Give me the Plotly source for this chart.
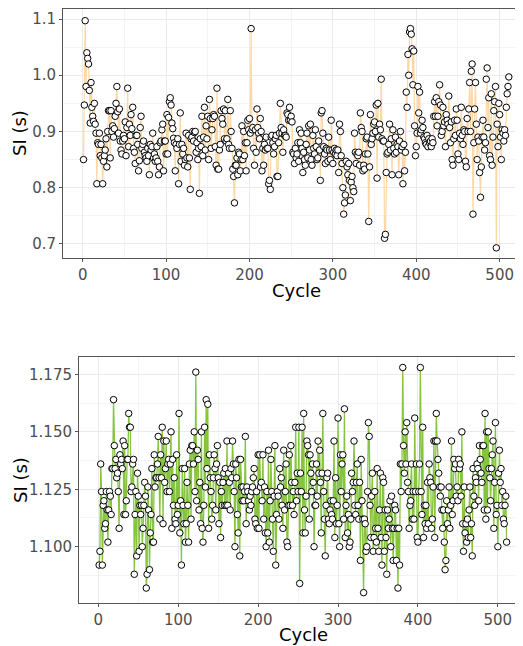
import plotly.graph_objects as go

# ---- data: top panel (SI, seconds) ----
si_top = [
 0.850, 0.947, 1.097, 0.980, 1.040, 1.030, 1.020, 0.973, 0.915, 0.987,
 0.943, 0.927, 0.918, 0.950, 0.913, 0.897, 0.807, 0.880, 0.877, 0.897,
 0.857, 0.877, 0.853, 0.807, 0.847, 0.857, 0.867, 0.887, 0.837, 0.900,
 0.937, 0.937, 0.853, 0.937, 0.900, 0.910, 0.890, 0.905, 0.927, 0.950,
 0.980, 0.935, 0.897, 0.940, 0.883, 0.867, 0.860, 0.883, 0.893, 0.887,
 0.917, 0.857, 0.907, 0.977, 0.873, 0.913, 0.893, 0.930, 0.905, 0.943,
 0.870, 0.863, 0.843, 0.893, 0.893, 0.877, 0.830, 0.848, 0.907, 0.927,
 0.870, 0.877, 0.883, 0.863, 0.857, 0.853, 0.847, 0.870, 0.857, 0.823,
 0.877, 0.867, 0.873, 0.897, 0.853, 0.860, 0.847, 0.853, 0.873, 0.847,
 0.823, 0.837, 0.880, 0.883, 0.903, 0.913, 0.830, 0.883, 0.883, 0.860,
 0.930, 0.860, 0.925, 0.953, 0.960, 0.947, 0.915, 0.905, 0.888, 0.880,
 0.830, 0.877, 0.870, 0.887, 0.807, 0.877, 0.933, 0.847, 0.877, 0.860,
 0.870, 0.840, 0.850, 0.897, 0.853, 0.837, 0.893, 0.853, 0.797, 0.887,
 0.890, 0.900, 0.883, 0.898, 0.900, 0.863, 0.880, 0.850, 0.870, 0.790,
 0.887, 0.873, 0.927, 0.857, 0.890, 0.943, 0.867, 0.910, 0.887, 0.927,
 0.850, 0.957, 0.923, 0.870, 0.903, 0.923, 0.930, 0.927, 0.873, 0.840,
 0.977, 0.833, 0.833, 0.867, 0.877, 0.937, 0.923, 0.913, 0.940, 0.887,
 0.937, 0.883, 0.887, 0.957, 0.877, 0.870, 0.937, 0.900, 0.870, 0.833,
 0.820, 0.773, 0.840, 0.840, 0.853, 0.823, 0.863, 0.860, 0.830, 0.850,
 0.910, 0.850, 0.900, 0.857, 0.880, 0.830, 0.880, 0.920, 0.903, 0.923,
 0.897, 1.083, 0.903, 0.907, 0.870, 0.840, 0.903, 0.863, 0.940, 0.907,
 0.897, 0.887, 0.923, 0.900, 0.830, 0.870, 0.840, 0.877, 0.867, 0.890,
 0.870, 0.870, 0.807, 0.813, 0.797, 0.890, 0.893, 0.880, 0.860, 0.873,
 0.887, 0.893, 0.820, 0.820, 0.880, 0.897, 0.950, 0.907, 0.897, 0.863,
 0.903, 0.893, 0.893, 0.890, 0.933, 0.930, 0.920, 0.943, 0.920, 0.927,
 0.917, 0.863, 0.860, 0.843, 0.870, 0.853, 0.860, 0.880, 0.847, 0.903,
 0.880, 0.897, 0.870, 0.827, 0.863, 0.850, 0.840, 0.877, 0.897, 0.853,
 0.910, 0.867, 0.913, 0.850, 0.840, 0.893, 0.870, 0.860, 0.903, 0.873,
 0.850, 0.853, 0.883, 0.867, 0.813, 0.933, 0.937, 0.897, 0.873, 0.860,
 0.843, 0.870, 0.867, 0.847, 0.890, 0.867, 0.850, 0.920, 0.867, 0.843,
 0.863, 0.870, 0.860, 0.867, 0.857, 0.867, 0.827, 0.913, 0.900, 0.857,
 0.843, 0.800, 0.753, 0.773, 0.787, 0.847, 0.837, 0.823, 0.843, 0.813,
 0.777, 0.810, 0.820, 0.800, 0.793, 0.897, 0.863, 0.843, 0.860, 0.857,
 0.863, 0.840, 0.933, 0.907, 0.900, 0.830, 0.840, 0.833, 0.860, 0.887,
 0.890, 0.860, 0.740, 0.837, 0.930, 0.877, 0.887, 0.897, 0.913, 0.917,
 0.900, 0.947, 0.817, 0.950, 0.890, 0.913, 0.903, 0.993, 0.887, 0.883,
 0.883, 0.710, 0.717, 0.827, 0.860, 0.863, 0.877, 0.913, 0.867, 0.887,
 0.823, 0.903, 0.870, 0.860, 0.890, 0.863, 0.877, 0.873, 0.823, 0.883,
 0.900, 0.867, 0.873, 0.807, 0.877, 0.830, 0.863, 0.970, 0.943, 1.037,
 1.000, 1.077, 1.083, 1.073, 1.047, 0.983, 1.043, 0.910, 0.857, 0.873,
 0.897, 0.980, 0.933, 0.970, 0.897, 0.903, 0.920, 0.907, 0.890, 0.887,
 0.880, 0.877, 0.893, 0.873, 0.887, 0.880, 0.883, 0.873, 0.887, 0.880,
 0.927, 0.953, 0.927, 0.960, 0.910, 0.927, 0.953, 0.983, 0.947, 0.893,
 0.900, 0.943, 0.910, 0.917, 0.873, 0.930, 0.920, 0.913, 0.963, 0.907,
 0.880, 0.917, 0.850, 0.840, 0.887, 0.920, 0.893, 0.940, 0.920, 0.860,
 0.850, 0.897, 0.887, 0.943, 0.893, 0.877, 0.903, 0.900, 0.847, 0.837,
 0.923, 0.900, 0.940, 0.987, 0.900, 1.007, 1.020, 0.753, 0.880, 0.940,
 0.987, 0.913, 0.850, 0.890, 0.883, 0.827, 0.783, 0.837, 0.890, 0.920,
 0.890, 0.867, 0.880, 0.993, 1.013, 0.907, 0.960, 0.857, 0.850, 0.967,
 0.840, 0.890, 0.937, 0.953, 0.980, 0.693, 0.913, 0.873, 0.950, 0.930,
 0.890, 0.850, 0.903, 0.897, 0.883, 0.903, 0.893, 0.943, 0.967, 0.980,
 0.997,
]

# ---- data: bottom panel (SI, seconds) ----
si_bot = [
 1.092, 1.098, 1.136, 1.124, 1.092, 1.118, 1.120, 1.108, 1.110, 1.124,
 1.116, 1.102, 1.116, 1.124, 1.122, 1.114, 1.134, 1.134, 1.164, 1.144,
 1.134, 1.138, 1.130, 1.132, 1.124, 1.108, 1.140, 1.136, 1.138, 1.134,
 1.146, 1.114, 1.144, 1.114, 1.120, 1.138, 1.138, 1.158, 1.152, 1.152,
 1.124, 1.126, 1.136, 1.138, 1.088, 1.114, 1.124, 1.096, 1.132, 1.122,
 1.098, 1.118, 1.114, 1.118, 1.100, 1.108, 1.118, 1.128, 1.122, 1.082,
 1.088, 1.126, 1.116, 1.090, 1.106, 1.114, 1.134, 1.102, 1.102, 1.140,
 1.126, 1.130, 1.130, 1.136, 1.148, 1.130, 1.112, 1.140, 1.130, 1.152,
 1.110, 1.146, 1.128, 1.134, 1.146, 1.124, 1.136, 1.138, 1.124, 1.136,
 1.150, 1.108, 1.138, 1.118, 1.130, 1.112, 1.110, 1.140, 1.114, 1.118,
 1.158, 1.106, 1.120, 1.092, 1.134, 1.118, 1.110, 1.134, 1.102, 1.110,
 1.128, 1.118, 1.102, 1.136, 1.142, 1.112, 1.144, 1.144, 1.136, 1.150,
 1.124, 1.176, 1.120, 1.142, 1.138, 1.116, 1.128, 1.110, 1.150, 1.108,
 1.102, 1.118, 1.152, 1.126, 1.164, 1.134, 1.162, 1.108, 1.140, 1.130,
 1.124, 1.112, 1.118, 1.130, 1.140, 1.134, 1.116, 1.136, 1.144, 1.130,
 1.110, 1.128, 1.104, 1.124, 1.118, 1.128, 1.132, 1.118, 1.134, 1.118,
 1.146, 1.118, 1.132, 1.128, 1.116, 1.134, 1.130, 1.146, 1.136, 1.124,
 1.100, 1.136, 1.130, 1.114, 1.106, 1.138, 1.096, 1.138, 1.126, 1.120,
 1.126, 1.120, 1.124, 1.148, 1.110, 1.126, 1.124, 1.120, 1.116, 1.122,
 1.118, 1.124, 1.126, 1.130, 1.134, 1.112, 1.110, 1.124, 1.108, 1.140,
 1.108, 1.140, 1.126, 1.128, 1.120, 1.140, 1.112, 1.126, 1.106, 1.100,
 1.124, 1.106, 1.142, 1.102, 1.120, 1.138, 1.124, 1.112, 1.098, 1.122,
 1.144, 1.092, 1.114, 1.124, 1.122, 1.112, 1.134, 1.126, 1.130, 1.118,
 1.108, 1.142, 1.116, 1.124, 1.136, 1.102, 1.100, 1.118, 1.140, 1.118,
 1.144, 1.128, 1.118, 1.124, 1.114, 1.128, 1.152, 1.120, 1.132, 1.124,
 1.152, 1.084, 1.132, 1.124, 1.152, 1.106, 1.158, 1.116, 1.106, 1.122,
 1.146, 1.144, 1.140, 1.112, 1.140, 1.132, 1.124, 1.136, 1.128, 1.100,
 1.118, 1.118, 1.136, 1.122, 1.146, 1.132, 1.142, 1.128, 1.106, 1.132,
 1.158, 1.124, 1.112, 1.096, 1.118, 1.130, 1.132, 1.112, 1.110, 1.116,
 1.120, 1.114, 1.112, 1.120, 1.146, 1.104, 1.130, 1.110, 1.118, 1.156,
 1.110, 1.100, 1.140, 1.124, 1.136, 1.140, 1.112, 1.160, 1.104, 1.118,
 1.122, 1.106, 1.114, 1.100, 1.102, 1.112, 1.132, 1.124, 1.128, 1.146,
 1.118, 1.114, 1.128, 1.136, 1.118, 1.112, 1.128, 1.094, 1.138, 1.120,
 1.112, 1.080, 1.112, 1.110, 1.098, 1.100, 1.124, 1.154, 1.148, 1.118,
 1.104, 1.122, 1.132, 1.098, 1.104, 1.124, 1.108, 1.102, 1.134, 1.108,
 1.098, 1.116, 1.132, 1.104, 1.092, 1.130, 1.128, 1.098, 1.116, 1.104,
 1.088, 1.116, 1.108, 1.112, 1.120, 1.100, 1.122, 1.108, 1.094, 1.108,
 1.118, 1.116, 1.094, 1.108, 1.082, 1.108, 1.092, 1.136, 1.124, 1.136,
 1.178, 1.144, 1.132, 1.150, 1.136, 1.154, 1.128, 1.124, 1.108, 1.118,
 1.120, 1.136, 1.112, 1.124, 1.112, 1.156, 1.124, 1.136, 1.104, 1.102,
 1.124, 1.136, 1.178, 1.124, 1.114, 1.152, 1.104, 1.118, 1.110, 1.118,
 1.108, 1.128, 1.110, 1.136, 1.130, 1.128, 1.108, 1.112, 1.126, 1.146,
 1.104, 1.146, 1.158, 1.146, 1.138, 1.132, 1.126, 1.122, 1.126, 1.116,
 1.108, 1.116, 1.102, 1.090, 1.094, 1.120, 1.110, 1.116, 1.126, 1.108,
 1.118, 1.146, 1.114, 1.120, 1.138, 1.134, 1.136, 1.122, 1.126, 1.120,
 1.138, 1.134, 1.136, 1.122, 1.150, 1.110, 1.098, 1.126, 1.106, 1.110,
 1.102, 1.112, 1.104, 1.116, 1.126, 1.104, 1.110, 1.096, 1.134, 1.122,
 1.118, 1.130, 1.128, 1.136, 1.134, 1.120, 1.144, 1.138, 1.132, 1.128,
 1.144, 1.144, 1.116, 1.158, 1.112, 1.150, 1.116, 1.150, 1.134, 1.130,
 1.120, 1.134, 1.140, 1.146, 1.108, 1.128, 1.154, 1.114, 1.118, 1.100,
 1.132, 1.142, 1.128, 1.134, 1.118, 1.124, 1.112, 1.110, 1.118, 1.122,
 1.102,
]

cycle_top = list(range(1, len(si_top) + 1))
cycle_bot = list(range(1, len(si_bot) + 1))

x_ticks = [0, 100, 200, 300, 400, 500]
y_ticks_top = [0.7, 0.8, 0.9, 1.0, 1.1]
y_labels_top = ["0.7", "0.8", "0.9", "1.0", "1.1"]
y_ticks_bot = [1.100, 1.125, 1.150, 1.175]
y_labels_bot = ["1.100", "1.125", "1.150", "1.175"]

# page body has an 8px margin: the figure starts at (8, 8) in the window
OFF = 8
W, H = 523 - OFF, 646 - OFF
FONT = "DejaVu Sans, Verdana, sans-serif"

fig = go.Figure()

marker = dict(size=6.5, color="white", line=dict(color="black", width=1))

fig.add_trace(go.Scatter(x=cycle_top, y=si_top, mode="lines+markers",
                         line=dict(color="#FDD8A6", width=1.2),
                         marker=marker, xaxis="x", yaxis="y",
                         showlegend=False, hoverinfo="x+y"))
fig.add_trace(go.Scatter(x=cycle_bot, y=si_bot, mode="lines+markers",
                         line=dict(color="#86C440", width=1.3),
                         marker=marker, xaxis="x2", yaxis="y2",
                         showlegend=False, hoverinfo="x+y"))

def px_x(p):
    return (p - OFF) / W

def px_y(p):
    return 1 - (p - OFF) / H

grid_major = "#EBEBEB"
grid_minor = "#F4F4F4"
tickfont = dict(family=FONT, size=15, color="#4D4D4D")

common_axis = dict(showgrid=True, gridcolor=grid_major, gridwidth=1,
                   zeroline=False, showline=True, linecolor="#555555",
                   linewidth=1, ticks="outside", ticklen=3,
                   tickcolor="#555555", tickfont=tickfont)

fig.update_layout(
    width=W, height=H,
    margin=dict(l=0, r=0, t=0, b=0),
    paper_bgcolor="white", plot_bgcolor="white",
    font=dict(family=FONT),
    xaxis=dict(domain=[px_x(63), 1], range=[-23.6, 528], anchor="y",
               tickvals=x_ticks, mirror=True,
               minor=dict(showgrid=True, gridcolor=grid_minor, dtick=50, tick0=0),
               **common_axis),
    yaxis=dict(domain=[px_y(258), px_y(9)], range=[0.675, 1.1178], anchor="x",
               tickvals=y_ticks_top, ticktext=y_labels_top,
               minor=dict(showgrid=True, gridcolor=grid_minor, dtick=0.05, tick0=0.65),
               **common_axis),
    xaxis2=dict(domain=[px_x(79), 1], range=[-24.2, 531.5], anchor="y2",
                tickvals=x_ticks, mirror=True,
                minor=dict(showgrid=True, gridcolor=grid_minor, dtick=50, tick0=0),
                **common_axis),
    yaxis2=dict(domain=[px_y(603), px_y(356.7)], range=[1.0755, 1.1827], anchor="x2",
                tickvals=y_ticks_bot, ticktext=y_labels_bot,
                minor=dict(showgrid=True, gridcolor=grid_minor, dtick=0.0125, tick0=1.0875),
                **common_axis),
)

title_font = dict(family=FONT, size=18, color="black")
annotations = [
    dict(text="Cycle", x=px_x(296), y=px_y(291), xref="paper", yref="paper",
         showarrow=False, font=title_font, xanchor="center", yanchor="middle"),
    dict(text="SI (s)", x=px_x(20), y=px_y(133), xref="paper", yref="paper",
         showarrow=False, font=title_font, xanchor="center", yanchor="middle",
         textangle=-90, borderpad=0),
    dict(text="Cycle", x=px_x(303), y=px_y(634), xref="paper", yref="paper",
         showarrow=False, font=title_font, xanchor="center", yanchor="middle"),
    dict(text="SI (s)", x=px_x(20), y=px_y(480), xref="paper", yref="paper",
         showarrow=False, font=title_font, xanchor="center", yanchor="middle",
         textangle=-90, borderpad=0),
]
fig.update_layout(annotations=annotations)

fig.write_html("out.html")
